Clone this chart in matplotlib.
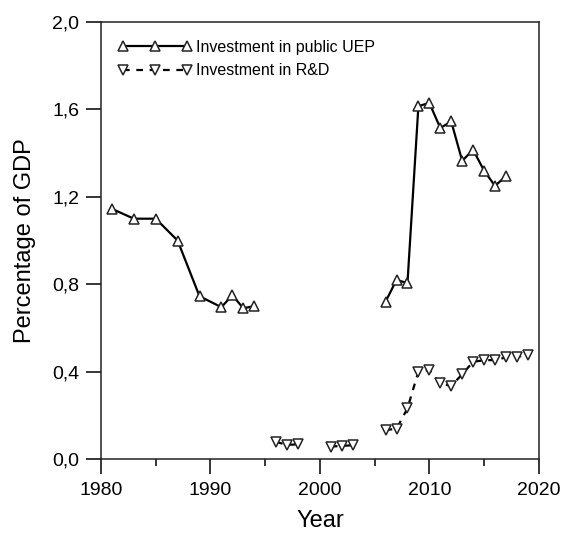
import numpy as np
import matplotlib
matplotlib.use('Agg')
import matplotlib.pyplot as plt
from matplotlib.ticker import MultipleLocator, FuncFormatter

plt.rcParams['font.family'] = ['Liberation Sans', 'DejaVu Sans']

# investment in public UEP (% of GDP)
uep_years = [1981, 1983, 1985, 1987, 1989, 1991, 1992, 1993, 1994,
             1995,
             2006, 2007, 2008, 2009, 2010, 2011, 2012, 2013, 2014, 2015, 2016, 2017]
uep_vals = [1.145, 1.10, 1.10, 1.00, 0.745, 0.695, 0.75, 0.69, 0.70,
            np.nan,
            0.72, 0.82, 0.805, 1.615, 1.63, 1.515, 1.545, 1.365, 1.415, 1.32, 1.25, 1.295]

# investment in R&D (% of GDP)
rd_years = [1996, 1997, 1998, 1999, 2001, 2002, 2003, 2004,
            2006, 2007, 2008, 2009, 2010, 2011, 2012, 2013, 2014, 2015, 2016, 2017, 2018, 2019]
rd_vals = [0.078, 0.065, 0.067, np.nan, 0.057, 0.06, 0.063, np.nan,
           0.133, 0.138, 0.232, 0.40, 0.407, 0.346, 0.334, 0.388, 0.445, 0.452, 0.453, 0.465, 0.467, 0.478]

fig = plt.figure(figsize=(5.63, 5.38), dpi=100)
ax = fig.add_axes([0.1794, 0.1468, 0.7776, 0.8122])

ax.plot(uep_years, uep_vals, color='black', lw=1.6, marker='^', ms=7.5,
        mfc='white', mec='#222222', mew=1.1, label='Investment in public UEP')
ax.plot(rd_years, rd_vals, color='black', lw=1.6, ls=(0, (3, 3)), marker='v', ms=7.5,
        mfc='white', mec='#222222', mew=1.1, label='Investment in R&D')

ax.set_xlim(1980, 2020)
ax.set_ylim(0, 2.0)
ax.xaxis.set_major_locator(MultipleLocator(10))
ax.xaxis.set_minor_locator(MultipleLocator(5))
ax.yaxis.set_major_locator(MultipleLocator(0.4))
ax.yaxis.set_major_formatter(FuncFormatter(lambda v, p: f'{v:.1f}'.replace('.', ',')))

ax.tick_params(axis='both', which='major', direction='out', length=10.5, width=1.1,
               labelsize=14)
ax.tick_params(axis='x', which='major', pad=6)
ax.tick_params(axis='y', which='major', pad=5)
ax.tick_params(axis='x', which='minor', direction='out', length=5, width=1.1)
for s in ax.spines.values():
    s.set_linewidth(1.1)
    s.set_color('#222222')

ax.set_xlabel('Year', fontsize=17, labelpad=8)
ax.set_ylabel('Percentage of GDP', fontsize=17, labelpad=12)

ax.legend(loc='upper left', frameon=False, fontsize=11.5, numpoints=3,
          handlelength=4.6, handletextpad=0.25, borderaxespad=0.7,
          labelspacing=0.55, borderpad=0.4)

fig.savefig('out.png', dpi=100)
